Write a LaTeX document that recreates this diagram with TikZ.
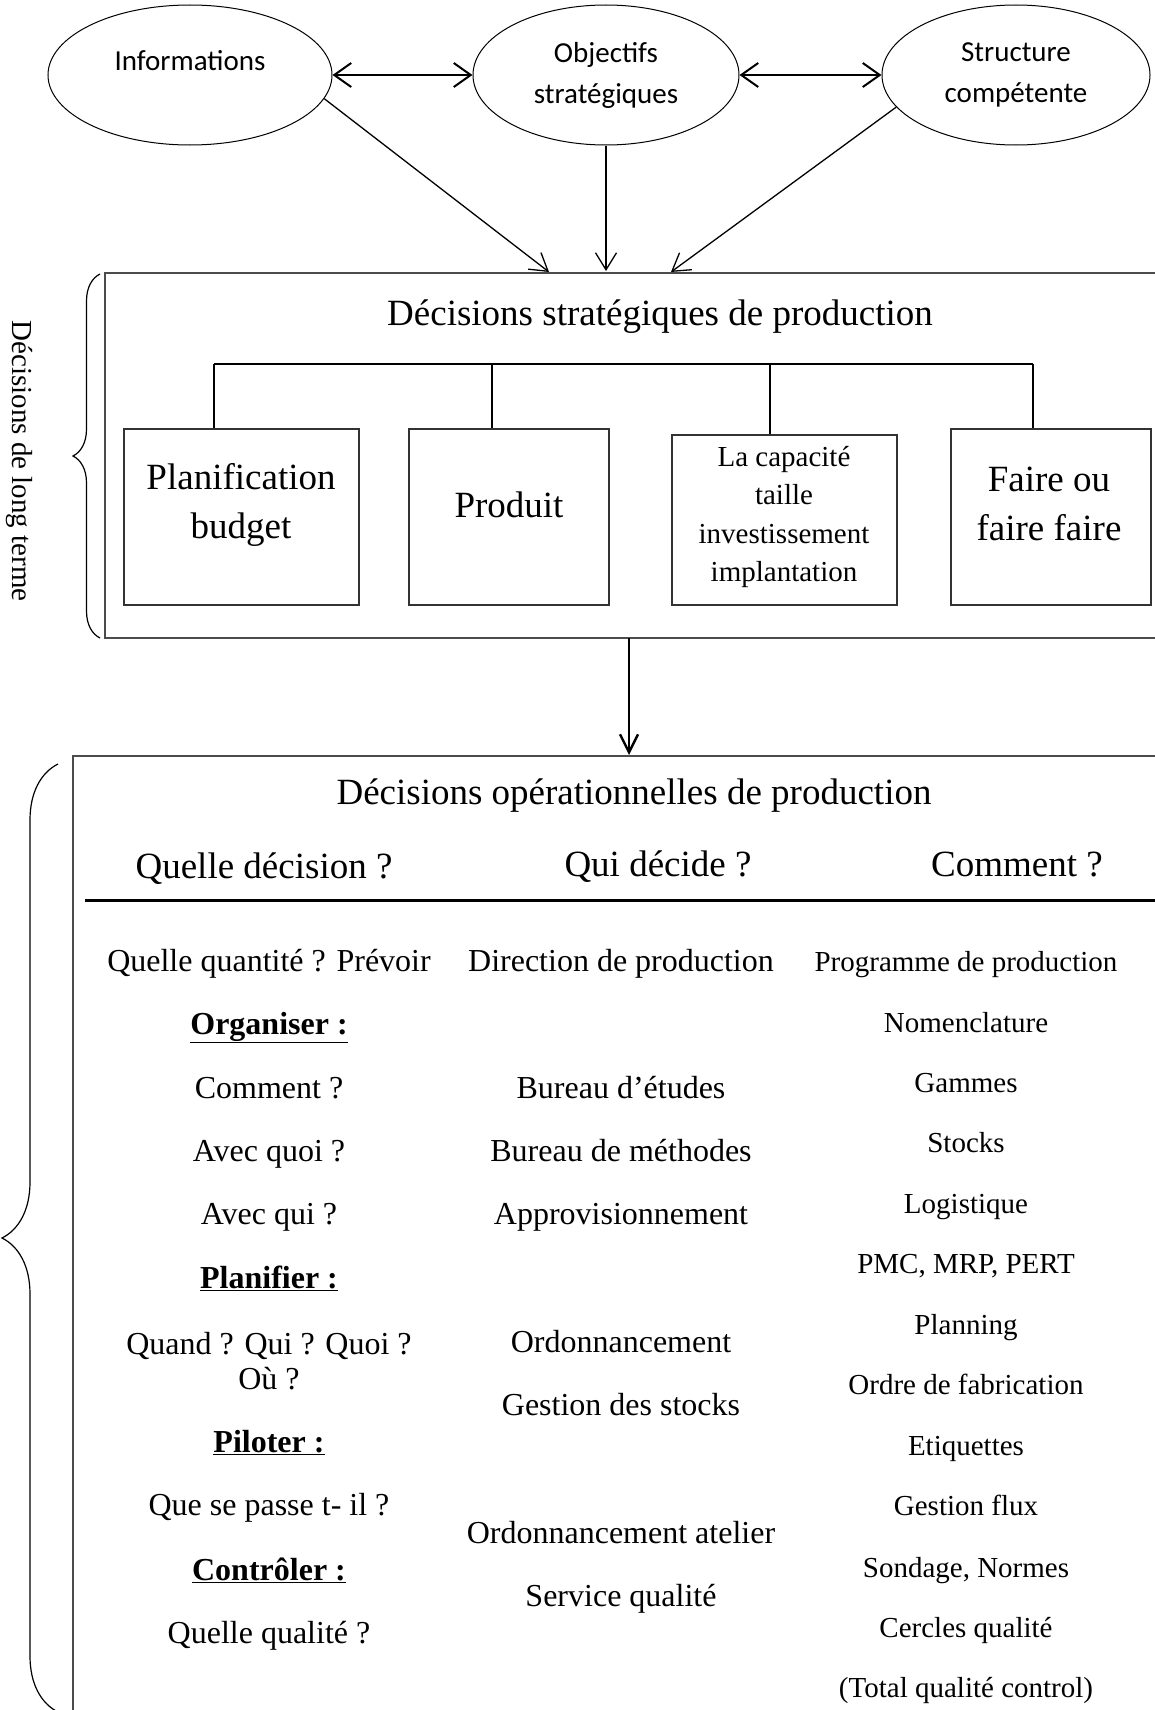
\documentclass[tikz,border=0pt]{standalone}
\usepackage{fontspec}
\setmainfont{Liberation Serif}
\newfontfamily\calibri{Carlito}
\usetikzlibrary{arrows.meta, positioning, shapes.geometric, decorations.pathreplacing}
\tikzset{
  bulle/.style={ellipse, draw, line width=1pt, minimum height=140pt, inner sep=0pt,
    align=center, font=\calibri\fontsize{29}{41}\selectfont},
  cadre/.style={draw=black!70, line width=1.2pt},
  boite/.style={draw=black!80, line width=1.2pt, minimum height=176pt, inner sep=0pt},
  titre/.style={font=\fontsize{37}{49}\selectfont, align=center, inner sep=0pt},
  moyen/.style={font=\fontsize{29}{38.5}\selectfont, align=center, inner sep=0pt},
  liste/.style={font=\fontsize{32}{35}\selectfont, align=center, inner sep=0pt,
    text height=23pt, text depth=7pt},
  petit/.style={font=\fontsize{29}{35}\selectfont, align=center, inner sep=0pt,
    text height=21pt, text depth=6pt},
  arbre/.style={line width=1.2pt},
  fleche/.style={line width=1.3pt, -{Straight Barb[length=17pt,width=21pt]}},
  fleche2/.style={line width=2pt,
    {Straight Barb[length=17pt,width=24pt]}-{Straight Barb[length=17pt,width=24pt]}},
  fleche3/.style={line width=2.4pt, -{Straight Barb[length=18pt,width=18pt]}},
  accolade/.style={line width=1.2pt, decorate}
}

\begin{document}
\begin{tikzpicture}[x=1pt, y=-1pt]
\clip (0,0) rectangle (1155,1710);

% les trois ellipses
\node[bulle, minimum width=284pt] (info) at (190,75) {\raisebox{14pt}[\height][\depth]{Informations}};
\node[bulle, minimum width=266pt] (obj) at (606,75) {Objectifs\\stratégiques};
\node[bulle, minimum width=268pt] (struct) at (1016,75) {Structure\\compétente};

\draw[fleche2] (info) -- (obj);
\draw[fleche2] (obj) -- (struct);

% decisions strategiques
\draw[cadre] (105,273) rectangle (1170,638);
\coordinate (t1) at (549,272);
\coordinate (t2) at (606,271);
\coordinate (t3) at (671,272);
\draw[fleche] (info.-10) -- (t1);
\draw[fleche] (obj.south) -- (t2);
\draw[fleche] (struct.195) -- (t3);

\node[titre] (strat) at (660,317) {Décisions stratégiques de production};

\node[boite, minimum width=235pt] (plan) at (241.5,517) {};
\node[boite, minimum width=200pt] (prod) at (509,517) {};
\node[boite, minimum width=225pt, minimum height=170pt] (cap) at (784.5,520) {};
\node[boite, minimum width=200pt] (faire) at (1051,517) {};

\node[titre] (plant) at (241,505) {Planification\\budget};
\node[titre] (prodt) at (509,505) {Produit};
\node[moyen] (capt) at (784,517) {La capacité\\taille\\investissement\\implantation};
\node[titre] (fairet) at (1049,504) {Faire ou\\faire faire};

\coordinate (b1) at (214,364);
\coordinate (b2) at (492,364);
\coordinate (b3) at (770,364);
\coordinate (b4) at (1033,364);
\draw[arbre] (b1) -- (b4);
\draw[arbre] (b1) -- (b1 |- plan.north);
\draw[arbre] (b2) -- (b2 |- prod.north);
\draw[arbre] (b3) -- (b3 |- cap.north);
\draw[arbre] (b4) -- (b4 |- faire.north);

\draw[accolade, decoration={brace, amplitude=27pt}] (100,638) -- (100,274);
\node[moyen, rotate=-90] (long) at (19,461) {Décisions de long terme};

% decisions operationnelles
\coordinate (s1) at (629,638);
\coordinate (o1) at (629,755);
\draw[fleche3] (s1) -- (o1);
\draw[cadre] (73,756) rectangle (1170,1720);

\node[titre] (op) at (634,796) {Décisions opérationnelles de production};
\node[titre] (h1) at (264,869) {Quelle décision ?};
\node[titre] (h2) at (658,867) {Qui décide ?};
\node[titre] (h3) at (1017,865) {Comment ?};
\draw[line width=3pt] (85,900) -- (1170,900);

\node[liste] (q1) at (269,963) {Quelle quantité ? Prévoir};
\node[liste] (q2) at (269,1026) {\underline{\textbf{Organiser :}}};
\node[liste] (q3) at (269,1090) {Comment ?};
\node[liste] (q4) at (269,1153) {Avec quoi ?};
\node[liste] (q5) at (269,1216) {Avec qui ?};
\node[liste] (q6) at (269,1280) {\underline{\textbf{Planifier :}}};
\node[font=\fontsize{32}{35}\selectfont, align=center, inner sep=0pt] (q7) at (269,1361) {Quand ? Qui ? Quoi ?\\Où ?};
\node[liste] (q8) at (269,1444) {\underline{\textbf{Piloter :}}};
\node[liste] (q9) at (269,1507) {Que se passe t- il ?};
\node[liste] (q10) at (269,1572) {\underline{\textbf{Contrôler :}}};
\node[liste] (q11) at (269,1635) {Quelle qualité ?};

\node[liste] (d1) at (621,963) {Direction de production};
\node[liste] (d2) at (621,1090) {Bureau d’études};
\node[liste] (d3) at (621,1153) {Bureau de méthodes};
\node[liste] (d4) at (621,1216) {Approvisionnement};
\node[liste] (d5) at (621,1344) {Ordonnancement};
\node[liste] (d6) at (621,1407) {Gestion des stocks};
\node[liste] (d7) at (621,1535) {Ordonnancement atelier};
\node[liste] (d8) at (621,1598) {Service qualité};

\node[petit] (c1) at (966,964) {Programme de production};
\node[petit] (c2) at (966,1025) {Nomenclature};
\node[petit] (c3) at (966,1085) {Gammes};
\node[petit] (c4) at (966,1145) {Stocks};
\node[petit] (c5) at (966,1206) {Logistique};
\node[petit] (c6) at (966,1266) {PMC, MRP, PERT};
\node[petit] (c7) at (966,1327) {Planning};
\node[petit] (c8) at (966,1387) {Ordre de fabrication};
\node[petit] (c9) at (966,1448) {Etiquettes};
\node[petit] (c10) at (966,1508) {Gestion flux};
\node[petit] (c11) at (966,1570) {Sondage, Normes};
\node[petit] (c12) at (966,1630) {Cercles qualité};
\node[petit] (c13) at (966,1690) {(Total qualité control)};

\draw[accolade, decoration={brace, amplitude=56pt}] (58,1712) -- (58,764);
\end{tikzpicture}
\end{document}
